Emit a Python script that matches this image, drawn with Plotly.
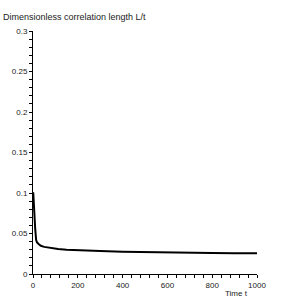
import plotly.graph_objects as go

t = [1, 3, 6, 10, 14, 18, 25, 35, 50, 75, 112, 150, 200, 300, 400, 500, 600, 700, 800, 900, 1000]
L = [0.101, 0.088, 0.072, 0.055, 0.042, 0.039, 0.037, 0.0348, 0.0335, 0.0322, 0.0310,
     0.0300, 0.0292, 0.0284, 0.0276, 0.0270, 0.0266, 0.0262, 0.0259, 0.0257, 0.0255]

xticks = [0, 200, 400, 600, 800, 1000]
yticks = [0, 0.05, 0.1, 0.15, 0.2, 0.25, 0.3]
ytick_labels = ["0", "0.05", "0.1", "0.15", "0.2", "0.25", "0.3"]

font = dict(family="Liberation Sans, Arial, sans-serif", size=8, color="#222")

fig = go.Figure()
fig.add_trace(go.Scatter(x=t, y=L, mode="lines", line=dict(color="black", width=2), showlegend=False))

fig.update_layout(
    width=291, height=305,
    margin=dict(l=33, r=34, t=31, b=31, autoexpand=False),
    paper_bgcolor="white", plot_bgcolor="white",
    font=font,
    xaxis=dict(range=[0, 1000], tickvals=xticks, showgrid=False, zeroline=False, automargin=False,
               showline=True, linecolor="black", linewidth=1,
               ticks="outside", ticklen=3, tickcolor="black",
               minor=dict(dtick=40, tick0=0, ticks="outside", ticklen=3, tickcolor="black", showgrid=False),
               tickfont=font),
    yaxis=dict(range=[0, 0.3], tickvals=yticks, ticktext=ytick_labels, showgrid=False, zeroline=False,
               automargin=False,
               showline=True, linecolor="black", linewidth=1,
               ticks="outside", ticklen=3, tickcolor="black",
               minor=dict(dtick=0.01, tick0=0, ticks="outside", ticklen=3, tickcolor="black", showgrid=False),
               tickfont=font),
    annotations=[
        dict(text="Dimensionless correlation length L/t", xref="paper", yref="paper",
             x=-32/224, y=(274-17)/243, xanchor="left", yanchor="middle", showarrow=False,
             font=dict(family="Liberation Sans, Arial, sans-serif", size=9, color="#222")),
        dict(text="Time t", xref="paper", yref="paper",
             x=(223-33)/224, y=(274-293)/243, xanchor="left", yanchor="middle", showarrow=False,
             font=dict(family="Liberation Sans, Arial, sans-serif", size=8, color="#222")),
    ],
)

fig.write_html("out.html", config={"displayModeBar": False},
               post_script="document.body.style.margin='0';")
